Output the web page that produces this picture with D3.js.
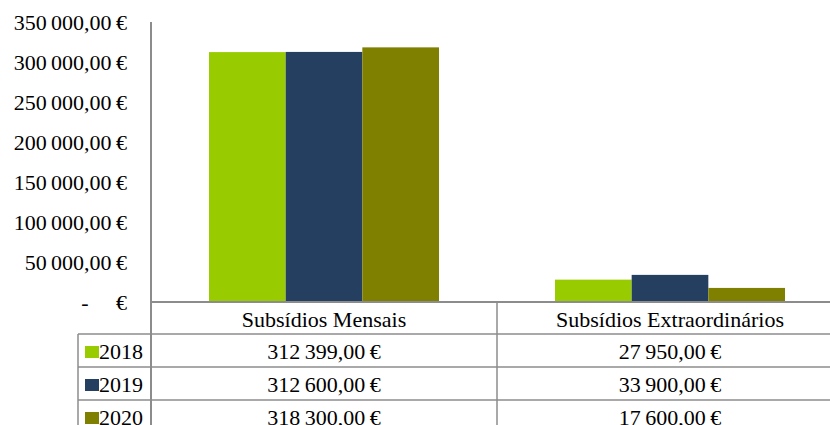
<!DOCTYPE html>
<html><head><meta charset="utf-8">
<script src="https://cdn.jsdelivr.net/npm/d3@7"></script>
<style>
html,body{margin:0;padding:0;background:#fff;}
svg{display:block;font-family:"Liberation Serif","Times New Roman",serif;}
text{white-space:pre;}
</style></head>
<body>
<svg id="c" width="830" height="425"></svg>
<script>
const categories = ["Subsídios Mensais", "Subsídios Extraordinários"];
const years = ["2018", "2019", "2020"];
const values2018 = [312399, 27950];
const values2019 = [312600, 33900];
const values2020 = [318300, 17600];
const yTicks = [0, 50000, 100000, 150000, 200000, 250000, 300000, 350000];
const colors = ["#99CC00", "#243F60", "#808000"];

const series = [values2018, values2019, values2020];
const svg = d3.select("#c");
const loc = d3.formatLocale({decimal: ",", thousands: "\u2009", grouping: [3], currency: ["", ""]});
const fmt = v => loc.format(",.2f")(v) + "\u2009€";
const tickFmt = v => v === 0 ? "-     €" : fmt(v);

const plotLeft = 151, plotTop = 22, baseY = 302;
const y = d3.scaleLinear().domain([0, 350000]).range([baseY, plotTop]);
const x0 = d3.scaleBand().domain(categories).range([plotLeft, plotLeft + 692]).padding(0);
const x1 = d3.scaleBand().domain(years).range([58, x0.bandwidth() - 58]).padding(0);

const lineColor = "#8c8c8c";
const fs = 22;

// bars
years.forEach((yr, i) => {
  svg.append("g").selectAll("rect").data(categories).join("rect")
    .attr("x", c => x0(c) + x1(yr))
    .attr("width", x1.bandwidth())
    .attr("y", (c, j) => y(series[i][j]))
    .attr("height", (c, j) => baseY - y(series[i][j]))
    .attr("fill", colors[i]);
});

// y axis labels
const yAxis = d3.axisLeft(y).tickValues(yTicks).tickFormat(tickFmt).tickSize(0).tickPadding(24);
const ag = svg.append("g").attr("transform", `translate(${plotLeft},0)`).call(yAxis);
ag.select(".domain").remove();
ag.selectAll("text").attr("font-size", fs).attr("font-family", "Liberation Serif").attr("fill", "#000");

// table geometry
const rowTops = [302, 334, 367, 400, 433];
const tableLeft = 78, tableRight = 843;

// horizontal lines
svg.append("line").attr("x1", plotLeft).attr("x2", tableRight).attr("y1", baseY).attr("y2", baseY)
  .attr("stroke", lineColor).attr("stroke-width", 2);
rowTops.slice(1).forEach(t => {
  svg.append("line").attr("x1", tableLeft).attr("x2", tableRight).attr("y1", t).attr("y2", t)
    .attr("stroke", lineColor).attr("stroke-width", 1.5);
});
// vertical lines
svg.append("line").attr("x1", plotLeft).attr("x2", plotLeft).attr("y1", plotTop).attr("y2", 425)
  .attr("stroke", lineColor).attr("stroke-width", 2);
svg.append("line").attr("x1", tableLeft).attr("x2", tableLeft).attr("y1", rowTops[1]).attr("y2", 425)
  .attr("stroke", lineColor).attr("stroke-width", 1.5);
svg.append("line").attr("x1", x0(categories[1])).attr("x2", x0(categories[1])).attr("y1", baseY).attr("y2", 425)
  .attr("stroke", lineColor).attr("stroke-width", 1.5);

// header labels
svg.append("g").selectAll("text").data(categories).join("text")
  .attr("x", c => x0(c) + x0.bandwidth() / 2)
  .attr("y", 327)
  .attr("text-anchor", "middle").attr("font-size", fs).attr("fill", "#000")
  .text(c => c);

// rows
years.forEach((yr, i) => {
  const top = rowTops[i + 1];
  svg.append("rect").attr("x", 85).attr("y", top + 12).attr("width", 14).attr("height", 12).attr("fill", colors[i]);
  svg.append("text").attr("x", 99).attr("y", top + 25).attr("font-size", fs).attr("fill", "#000").text(yr);
  svg.append("g").selectAll("text").data(categories).join("text")
    .attr("x", c => x0(c) + x0.bandwidth() / 2)
    .attr("y", top + 25)
    .attr("text-anchor", "middle").attr("font-size", fs).attr("fill", "#000")
    .text((c, j) => fmt(series[i][j]));
});
</script>
</body></html>
